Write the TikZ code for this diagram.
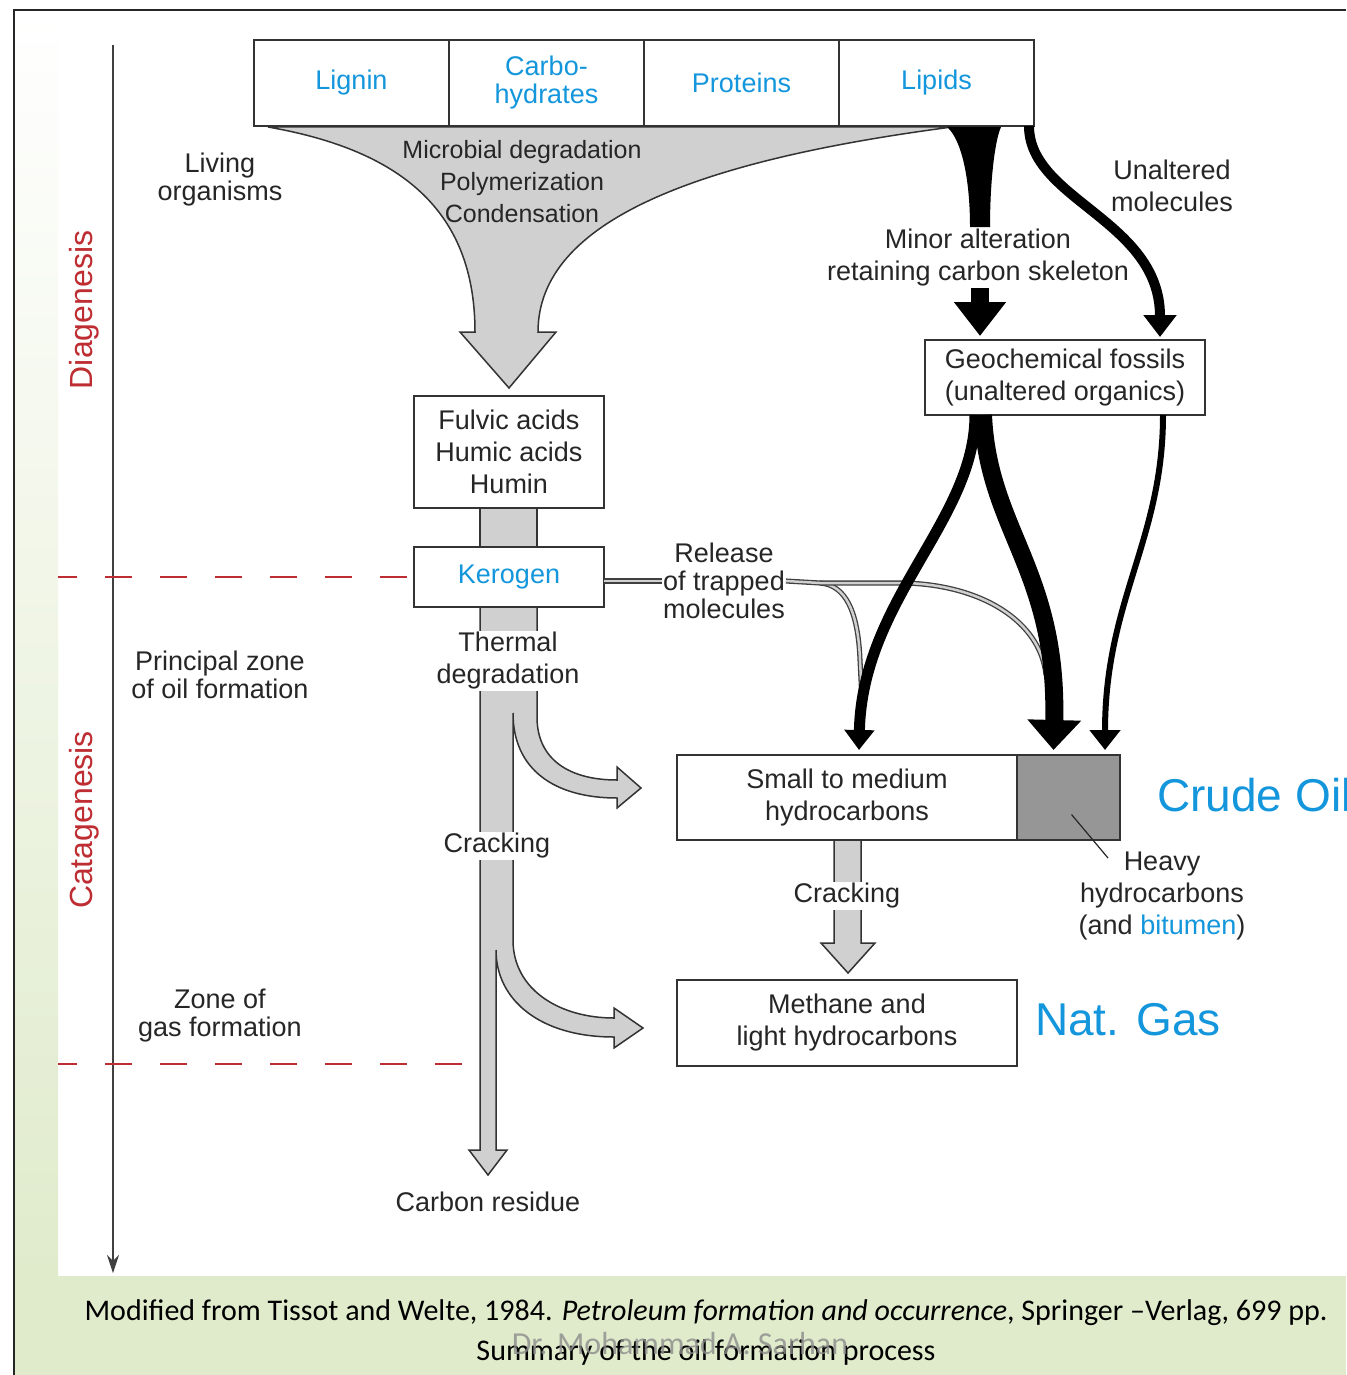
\documentclass[tikz,border=0pt]{standalone}
\usepackage{fontspec}
\setmainfont{Liberation Sans}
\newfontfamily\notefont{Carlito}
\usetikzlibrary{arrows.meta,positioning,calc}
\definecolor{labelblue}{RGB}{20,150,220}
\definecolor{zonered}{RGB}{190,45,50}
\definecolor{flowgray}{RGB}{208,208,208}
\definecolor{heavygray}{RGB}{150,150,150}
\definecolor{bandgreen}{RGB}{224,235,204}

\begin{document}
\begin{tikzpicture}[x=1pt,y=-1pt,>=Stealth,
  font=\fontsize{27}{32}\selectfont,text=black!85,
  box/.style={draw=black!80,line width=1.8pt,fill=white,align=center,inner sep=0pt,outer sep=0pt},
  topbox/.style={box,text=labelblue,minimum width=195pt,minimum height=86pt},
  flow/.style={fill=flowgray,draw=black!80,line width=1.5pt},
  zonedash/.style={draw=zonered,line width=1.6pt,dash pattern=on 27pt off 28pt,dash phase=8pt},
  release/.style={draw=black!75,line width=1.3pt,double=flowgray,double distance=2.5pt},
  lbl/.style={align=center,inner sep=1pt},
  gap/.style={lbl,fill=white},
  stage/.style={text=zonered,font=\fontsize{32}{38}\selectfont,rotate=90},
  big/.style={text=labelblue,font=\fontsize{46}{52}\selectfont,inner sep=0pt},
  note/.style={font=\notefont\fontsize{30}{34}\selectfont,text=black,inner sep=0pt}]
  \useasboundingbox (0,0) rectangle (1346,1375);
  \clip (0,0) rectangle (1346,1375);

  % page background and frame
  \fill[white] (0,0) rectangle (1346,1375);
  \shade[top color=white,bottom color=bandgreen] (14,10) rectangle (58,1276);
  \fill[bandgreen] (14,1276) rectangle (1346,1375);
  \draw[line width=2pt,black!85] (14,1375) -- (14,10) -- (1346,10);

  % depth axis
  \coordinate (axtop) at (113,45);
  \coordinate (axbot) at (113,1273);
  \draw[line width=1.3pt,black!75,-{Stealth[length=18pt,width=12pt]}] (axtop) -- (axbot);
  \node[stage] (diag) at (84,310) {Diagenesis};
  \node[stage] (catag) at (84,820) {Catagenesis};

  % funnel of degradation
  \filldraw[flow] (268,127) .. controls (400,150) and (475,210) .. (475,332)
    -- (460,332) -- (509,388) -- (556,332) -- (538,332)
    .. controls (538,220) and (700,160) .. (952,127) -- cycle;
  \node[lbl,font=\fontsize{25}{32}\selectfont] (micro) at (522,182)
    {Microbial degradation\\Polymerization\\Condensation};

  % kerogen column with its two branches
  \filldraw[flow] (480,500) rectangle (537,550);
  \filldraw[flow] (480,600) -- (537,600) -- (537,717)
    .. controls (537,760) and (570,780) .. (617,780) -- (617,767) -- (641,788)
    -- (617,808) -- (617,798) .. controls (555,798) and (513,770) .. (513,713)
    -- (513,940) .. controls (513,990) and (560,1018) .. (614,1018)
    -- (614,1008) -- (643,1028) -- (614,1048) -- (614,1037)
    .. controls (540,1037) and (496,1000) .. (496,950)
    -- (496,1150) -- (507,1150) -- (488,1175) -- (469,1150) -- (480,1150) -- cycle;
  \filldraw[flow] (834,835) -- (834,943) -- (821,943) -- (848,973) -- (875,943)
    -- (861,943) -- (861,835) -- cycle;

  % biomass row
  \node[topbox] (lignin) at (351.5,83) {Lignin};
  \node[topbox,right=0pt of lignin] (carbo) {Carbo-\\[-4pt]hydrates};
  \node[topbox,right=0pt of carbo] (prot) {Proteins};
  \node[topbox,right=0pt of prot] (lipid) {Lipids};

  % boxes
  \node[box,minimum width=190pt,minimum height=112pt] (humic) at (509,452)
    {Fulvic acids\\Humic acids\\Humin};
  \node[box,text=labelblue,minimum width=190pt,minimum height=60pt] (kerogen) at (509,577) {Kerogen};
  \node[box,minimum width=280pt,minimum height=75pt] (fossil) at (1065,377.5)
    {Geochemical fossils\\(unaltered organics)};
  \node[box,minimum width=340pt,minimum height=85pt] (oilbox) at (847,797.5)
    {Small to medium\\hydrocarbons};
  \node[box,fill=heavygray,minimum width=103pt,minimum height=85pt,right=0pt of oilbox] (heavy) {};
  \node[box,minimum width=340pt,minimum height=86pt] (gasbox) at (847,1023)
    {Methane and\\light hydrocarbons};

  % zone limits
  \coordinate (oilbase) at (58,577);
  \coordinate (gasstart) at (58,1064);
  \coordinate (gasbase) at (462,1064);
  \draw[zonedash] (oilbase) -- (kerogen.west);
  \draw[zonedash] (gasstart) -- (gasbase);

  % labels on the flow
  \node[gap] (thermal) at (508,661) {Thermal\\degradation};
  \node[gap] (crack) at (497,846) {Cracking};
  \node[gap] (crackb) at (847,896) {Cracking};
  \node[lbl] (residue) at (488,1202) {Carbon residue};

  % release of trapped molecules
  \node[lbl] (trapped) at (724,581) {Release\\[-4pt]of trapped\\[-4pt]molecules};
  \coordinate (fork) at (820,583);
  \draw[release] (kerogen.east |- trapped.west) -- (trapped.west);
  \draw[release] (trapped.east) -- (fork) .. controls (845,585) and (858,610) .. (860,660) -- (862,700);
  \draw[release] (fork) -- (905,583) .. controls (980,585) and (1040,620) .. (1046,675);

  % minor alteration
  \fill[black] (947,127) .. controls (962,140) and (970,180) .. (970,227)
    -- (990,227) .. controls (990,180) and (995,140) .. (1001,127) -- cycle;
  \node[lbl] (minor) at (978,258) {Minor alteration\\retaining carbon skeleton};
  \coordinate (minorstem) at (980,288);
  \draw[line width=18pt,-{Triangle[length=34pt,width=50pt]}] (minorstem) -- ($(fossil.north)+(-85,-4)$);

  % unaltered molecules
  \draw[line width=10pt,-{Triangle[length=22pt,width=32pt]}]
    ($(lipid.south east)+(-5,0)$) .. controls (1029,200) and (1160,220) .. ($(fossil.north)+(95,-3)$);
  \node[lbl] (unalt) at (1172,186) {Unaltered\\molecules};

  % fossils to crude oil
  \draw[line width=11pt,-{Triangle[length=20pt,width=29pt]}]
    ($(fossil.south)+(-90,0)$) .. controls (975,520) and (862,600) .. ($(oilbox.north)+(12,-5)$);
  \draw[line width=18pt,-{Triangle[length=30pt,width=52pt]}]
    ($(fossil.south)+(-82,0)$) .. controls (988,530) and (1058,570) .. ($(heavy.north)+(-15,-5)$);
  \draw[line width=6pt,-{Triangle[length=20pt,width=30pt]}]
    ($(fossil.south)+(98,0)$) .. controls (1163,540) and (1105,600) .. ($(heavy.north)+(36.5,-5)$);

  % heavy fraction
  \coordinate (heavytip) at ($(heavy.center)+(3,17)$);
  \node[lbl] (heavylbl) at (1162,896) {Heavy\\hydrocarbons\\(and \textcolor{labelblue}{bitumen})};
  \coordinate (heavyend) at (1108,858);
  \draw[line width=1.2pt,black!85] (heavytip) -- (heavyend);

  % products
  \node[big,anchor=west] (crude) at (1157,795) {Crude Oil};
  \node[big] (natgas) at (1128,1020) {Nat. Gas};

  % zone notes
  \node[lbl] (living) at (220,180) {Living\\[-4pt]organisms};
  \node[lbl] (oilzone) at (220,675) {Principal zone\\[-4pt]of oil formation};
  \node[lbl] (gaszone) at (220,1016) {Zone of\\[-4pt]gas formation};

  % source line
  \node[note] (credit) at (706,1313)
    {Modified from Tissot and Welte, 1984. \textit{Petroleum formation and occurrence}, Springer –Verlag, 699 pp.};
  \node[note] (summary) at (706,1352) {Summary of the oil formation process};
  \node[note,text=black!45,opacity=0.8,font=\notefont\fontsize{32}{36}\selectfont] (mark) at (680,1343) {Dr. Mohammad A. Sarhan};
\end{tikzpicture}
\end{document}
